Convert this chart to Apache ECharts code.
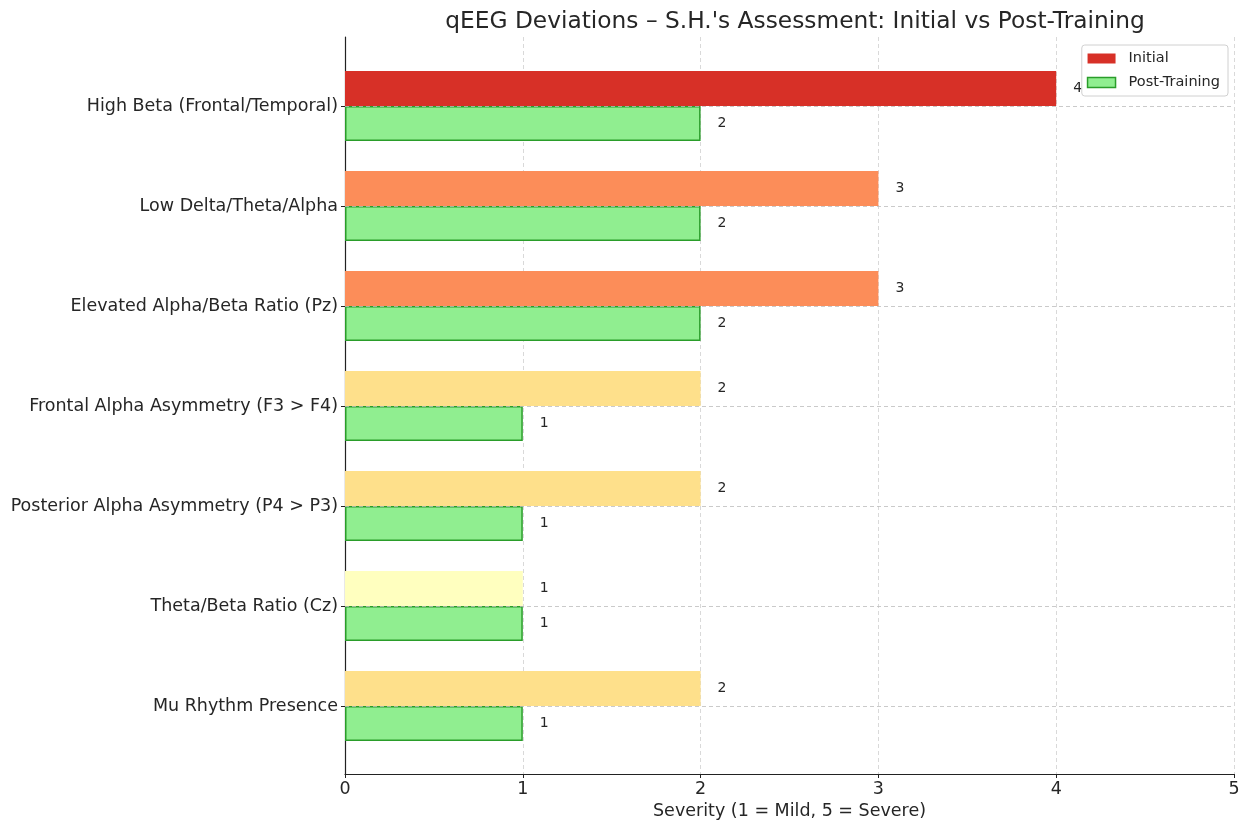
<!DOCTYPE html>
<html><head><meta charset="utf-8">
<script src="https://cdn.jsdelivr.net/npm/echarts@6/dist/echarts.min.js"></script>
<style>html,body{margin:0;padding:0;background:#fff}#c{width:1245px;height:821px}</style>
</head><body><div id="c"></div>
<script>
const categories = ["High Beta (Frontal/Temporal)","Low Delta/Theta/Alpha","Elevated Alpha/Beta Ratio (Pz)","Frontal Alpha Asymmetry (F3 > F4)","Posterior Alpha Asymmetry (P4 > P3)","Theta/Beta Ratio (Cz)","Mu Rhythm Presence"];
const initialValues = [4,3,3,2,2,1,2];
const postValues = [2,2,2,1,1,1,1];
const xTicks = [0,1,2,3,4,5];
const severityColors = {1:'#ffffbf',2:'#fee08b',3:'#fc8d59',4:'#d73027',5:'#a50026'};
const FONT = 'DejaVu Sans';
const TXT = '#262626';
const gridLine = {show:true,lineStyle:{color:'#cfcfcf',type:[4,3],width:0.8}};
const chart = echarts.init(document.getElementById('c'));
chart.setOption({
  animation:false,
  textStyle:{fontFamily:FONT},
  title:{text:"qEEG Deviations – S.H.'s Assessment: Initial vs Post-Training",left:790,textAlign:'center',top:5,
    textStyle:{fontFamily:FONT,fontSize:23.3,fontWeight:'normal',color:TXT}},
  legend:{orient:'vertical',right:17,top:45,itemWidth:28,itemHeight:10,itemGap:9,padding:[6,8,6,5],
    icon:'rect',
    borderColor:'#d0d0d0',borderWidth:1,borderRadius:3,backgroundColor:'rgba(255,255,255,0.85)',
    textStyle:{fontFamily:FONT,fontSize:14.5,color:TXT,padding:[0,0,0,8]},
    data:[{name:'Initial',itemStyle:{color:'#d73027'}},{name:'Post-Training',itemStyle:{color:'#90ee90',borderColor:'#2a9d2a',borderWidth:1.5}}]},
  grid:[
    {left:345,right:11,top:37,bottom:47,outerBoundsMode:'none',containLabel:false},
    {left:345,right:11,top:56,bottom:65,outerBoundsMode:'none',containLabel:false}
  ],
  xAxis:[
    {gridIndex:0,type:'value',min:0,max:5,interval:1,
      axisLine:{show:true,lineStyle:{color:'#222',width:1.2}},
      axisTick:{show:true,length:4,lineStyle:{color:'#222'}},
      axisLabel:{fontFamily:FONT,fontSize:17.5,color:TXT,margin:6,formatter:v=>xTicks.includes(v)?String(v):''},
      splitLine:gridLine,
      name:'Severity (1 = Mild, 5 = Severe)',nameLocation:'middle',nameGap:28,
      nameTextStyle:{fontFamily:FONT,fontSize:17.5,color:TXT}},
    {gridIndex:1,type:'value',min:0,max:5,show:false}
  ],
  yAxis:[
    {gridIndex:0,type:'value',min:0,max:1,axisLine:{show:true,lineStyle:{color:'#222',width:1.2}},
      axisTick:{show:false},axisLabel:{show:false},splitLine:{show:false}},
    {gridIndex:1,type:'category',data:categories,inverse:true,
      axisLine:{show:false},axisTick:{show:true,alignWithLabel:true,length:4,lineStyle:{color:'#222'}},
      axisLabel:{fontFamily:FONT,fontSize:17.5,color:TXT,margin:7},splitLine:{show:false}}
  ],
  series:[
    {name:'Initial',type:'bar',xAxisIndex:1,yAxisIndex:1,barWidth:35,barGap:'0%',
      data:initialValues.map(v=>({value:v,itemStyle:{color:severityColors[v]}})),
      itemStyle:{color:'#d73027'},
      label:{show:true,position:'right',distance:17,fontFamily:FONT,fontSize:14,color:TXT}},
    {name:'Post-Training',type:'bar',xAxisIndex:1,yAxisIndex:1,barWidth:35,barGap:'0%',
      data:postValues,
      itemStyle:{color:'#90ee90',borderColor:'#2a9d2a',borderWidth:1.5},
      label:{show:true,position:'right',distance:17,fontFamily:FONT,fontSize:14,color:TXT}},
    {name:'gridlines',type:'line',xAxisIndex:1,yAxisIndex:1,data:[],z:3,
      markLine:{silent:true,symbol:['none','none'],label:{show:false},
        lineStyle:{color:'#bdbdbd',type:[4,3],width:0.8},
        data:categories.map(c=>({yAxis:c}))}}
  ]
});
</script></body></html>
